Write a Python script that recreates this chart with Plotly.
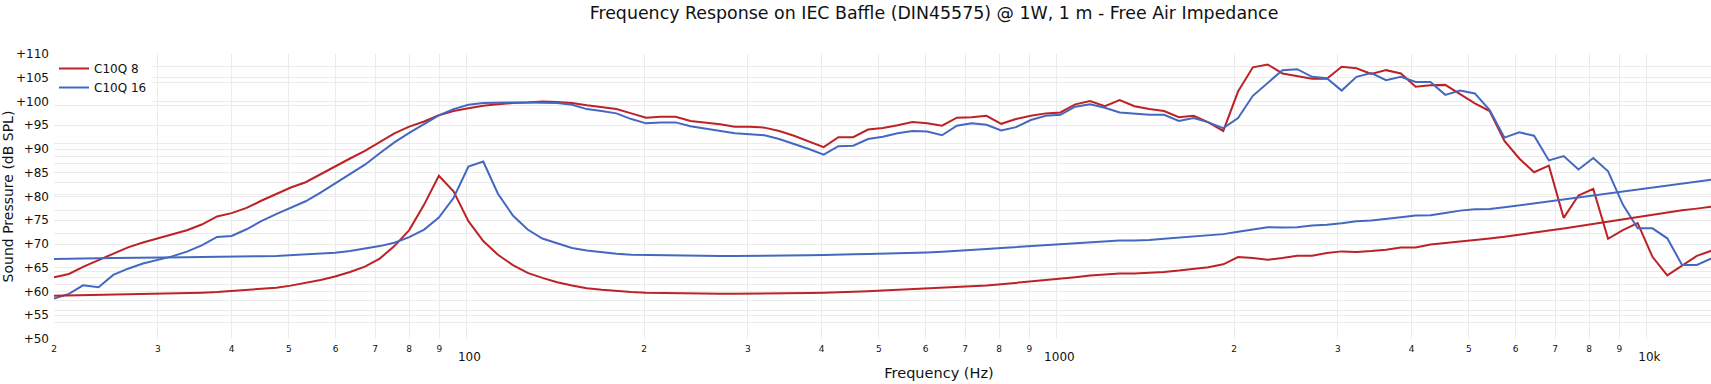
import plotly.graph_objects as go
import math

# 1/12-octave frequency points (Hz)
freq = [20.0, 21.2, 22.4, 23.8, 25.2, 26.7, 28.3, 30.0, 31.7, 33.6, 35.6, 37.8,
        40.0, 42.4, 44.9, 47.6, 50.4, 53.4, 56.6, 59.9, 63.5, 67.3, 71.3, 75.5,
        80.0, 84.8, 89.8, 95.1, 100.8, 106.8, 113.1, 119.9, 127.0, 134.5, 142.5, 151.0,
        160.0, 169.5, 179.6, 190.3, 201.6, 213.6, 226.3, 239.7, 254.0, 269.1, 285.1, 302.1,
        320.0, 339.0, 359.2, 380.6, 403.2, 427.1, 452.5, 479.5, 508.0, 538.2, 570.2, 604.1,
        640.0, 678.1, 718.4, 761.1, 806.3, 854.3, 905.1, 958.9, 1015.9, 1076.3, 1140.3, 1208.1,
        1280.0, 1356.1, 1436.8, 1522.2, 1612.7, 1708.6, 1810.2, 1917.9, 2031.9, 2152.7, 2280.7, 2416.3,
        2560.0, 2712.2, 2873.5, 3044.4, 3225.4, 3417.2, 3620.4, 3835.7, 4063.9, 4305.5, 4561.5, 4832.7,
        5120.0, 5424.5, 5746.9, 6088.7, 6450.8, 6834.4, 7240.8, 7671.3, 8127.5, 8610.8, 9122.8, 9665.3,
        10240.0, 10848.9, 11494.0, 12177.4, 12901.6]

# Sound pressure (dB SPL)
spl_c10q8 = [63.0, 63.7, 65.2, 66.6, 68.0, 69.3, 70.3, 71.2, 72.0, 72.9, 74.1, 75.8, 76.5, 77.6, 79.1, 80.6,
             81.9, 83.0, 84.7, 86.4, 88.0, 89.6, 91.4, 93.3, 94.7, 95.8, 97.1, 98.0, 98.6, 99.1, 99.4, 99.7, 99.8,
             100.0, 99.9, 99.7, 99.2, 98.8, 98.4, 97.5, 96.6, 96.8, 96.8, 95.9, 95.6, 95.2, 94.7, 94.7, 94.5,
             93.8, 92.8, 91.6, 90.4, 92.5, 92.5, 94.1, 94.4, 95.0, 95.7, 95.4, 94.9, 96.6, 96.7, 97.0, 95.3, 96.3,
             97.0, 97.5, 97.7, 99.4, 100.1, 99.0, 100.3, 99.0, 98.4, 98.0, 96.7, 97.0, 95.6, 93.8, 102.1, 107.2,
             107.8, 105.9, 105.4, 104.8, 104.8, 107.3, 107.0, 105.8, 106.6, 105.9, 103.1, 103.4, 103.5, 101.5,
             99.6, 98.0, 91.7, 88.0,
             85.1, 86.5, 75.5, 80.2, 81.6, 71.1, 72.9, 74.4, 67.3, 63.4, 65.5, 67.5, 68.6]
spl_c10q16 = [58.5, 59.5, 61.3, 60.9, 63.5, 64.8, 65.9, 66.6, 67.4, 68.4, 69.7, 71.5, 71.7, 73.1, 74.8, 76.3,
              77.7, 79.0, 80.8, 82.7, 84.6, 86.7, 89.1, 91.4, 93.4, 95.3, 97.1, 98.4, 99.3, 99.7, 99.8, 99.8, 99.8,
              99.8, 99.7, 99.3, 98.4, 98.0, 97.5, 96.3, 95.4, 95.6, 95.6, 94.8, 94.3, 93.9, 93.3, 93.1, 92.9,
              92.1, 91.1, 90.0, 88.8, 90.6, 90.7, 92.1, 92.6, 93.3, 93.8, 93.7, 92.9, 94.9, 95.4, 95.1, 93.9, 94.6,
              96.1, 97.0, 97.2, 98.9, 99.4, 98.7, 97.7, 97.5, 97.2, 97.2, 95.9, 96.5, 95.6, 94.4, 96.5, 101.2,
              103.8, 106.6, 106.8, 105.2, 104.9, 102.3, 105.2, 106.0, 104.5, 105.2, 104.1, 104.1, 101.4, 102.3,
              101.7, 98.2, 92.4, 93.5,
              92.8, 87.6, 88.5, 85.7, 88.1, 85.3, 78.3, 73.3, 73.3, 71.2, 65.6, 65.6, 67.0]

# Free-air impedance (Ohm)
imp_c10q8 = [6.52, 6.55, 6.57, 6.60, 6.64, 6.68, 6.68, 6.72, 6.76, 6.80, 6.88, 6.96, 7.09, 7.27, 7.40, 7.54,
             7.82, 8.21, 8.66, 9.20, 9.99, 11.0, 12.7, 15.9, 21.2, 33.5, 56.2, 42.5, 24.9, 17.4, 13.6, 11.3, 9.82,
             8.98, 8.32, 7.83, 7.47, 7.25, 7.08, 6.96, 6.88, 6.84, 6.80, 6.76, 6.76, 6.76, 6.76, 6.76, 6.76,
             6.80, 6.80, 6.84, 6.88, 6.92, 7.00, 7.08, 7.16, 7.25, 7.29, 7.38, 7.47, 7.56, 7.70, 7.83, 8.02, 8.21,
             8.42, 8.67, 8.88, 9.09, 9.37, 9.54, 9.71, 9.71, 9.82, 10.0, 10.24, 10.49, 10.87, 11.47, 13.07, 12.84,
             12.46, 12.84, 13.38, 13.38, 14.04, 14.46, 14.29, 14.55, 14.90, 15.53, 15.53, 16.39, 16.79, 17.29,
             17.81, 18.24, 18.79, 19.59,
             20.18, 21.04, 21.8, 22.73, 23.56, 24.57, 25.46, 26.54, 27.67, 28.84, 30.25, 31.16, 32.28]
imp_c10q16 = [12.61, 12.61, 12.69, 12.78, 12.85, 12.85, 12.93, 12.93, 13.00, 13.00, 13.08, 13.08, 13.16, 13.16,
              13.24, 13.32, 13.48, 13.64, 13.89, 14.14, 14.56, 15.16, 15.9, 16.9, 18.7, 21.4, 26.5, 37.7, 66.3,
              72.5, 40.7, 27.5, 21.4,
              18.2, 16.6, 15.35, 14.7, 14.2, 13.87, 13.6, 13.55, 13.4, 13.3, 13.3, 13.3, 13.3, 13.3, 13.3, 13.3,
              13.4, 13.4, 13.48, 13.55, 13.55, 13.72, 13.8, 13.87, 13.95, 14.12, 14.2, 14.37, 14.54, 14.8, 15.07,
              15.35, 15.6,
              15.91, 16.2, 16.5, 16.79, 17.1, 17.4, 17.61, 17.61, 17.72, 18.14, 18.46, 18.79, 19.13, 19.71, 20.55,
              21.54, 22.33, 22.2, 22.33, 23.0, 23.28, 23.98, 24.86, 25.16, 25.76, 26.7, 27.5, 27.67, 28.84, 30.06,
              30.79, 30.97, 31.91, 33.07,
              34.06, 35.3, 36.6, 37.93, 39.3, 40.74, 42.2, 44.0, 45.6, 47.26, 48.97, 50.45, 52.3]

series_names = ["C10Q 8", "C10Q 16"]
colors = ["#bc2226", "#4468c2"]
title_text = "Frequency Response on IEC Baffle (DIN45575) @ 1W, 1 m - Free Air Impedance"

FONT = "DejaVu Sans, Verdana, sans-serif"
GRID = "#ebebeb"

fig = go.Figure()
for name, spl, col in zip(series_names, [spl_c10q8, spl_c10q16], colors):
    fig.add_trace(go.Scatter(x=freq, y=spl, mode="lines", name=name,
                             line=dict(color=col, width=2)))
for name, imp, col in zip(series_names, [imp_c10q8, imp_c10q16], colors):
    fig.add_trace(go.Scatter(x=freq, y=imp, mode="lines", name=name + " impedance",
                             showlegend=False, yaxis="y2", line=dict(color=col, width=2)))

fig.update_layout(
    width=1868, height=384,
    margin=dict(l=54, r=44, t=54, b=45, autoexpand=False),
    paper_bgcolor="white", plot_bgcolor="white",
    font=dict(family=FONT, size=12, color="#111"),
    title=dict(text=title_text, x=0.5, xanchor="center", y=0.966, yanchor="middle",
               font=dict(size=17.4, family=FONT, color="#111")),
    showlegend=True,
    legend=dict(x=0, y=1, xanchor="left", yanchor="top", bgcolor="white",
                tracegroupgap=0, font=dict(size=12, family=FONT, color="#111")),
    xaxis=dict(type="log", range=[math.log10(20), math.log10(20000)], dtick="D1",
               showgrid=True, gridcolor=GRID, zeroline=False, showline=False, ticks="",
               tickfont=dict(size=12), automargin=False, ticklabelstandoff=3,
               title=dict(text="Frequency (Hz)", font=dict(size=14.5), standoff=4)),
    yaxis=dict(range=[50, 110], dtick=5, tickprefix="+", showgrid=True, gridcolor=GRID,
               zeroline=False, showline=False, ticks="", tickfont=dict(size=12), automargin=False,
               ticklabelstandoff=4,
               title=dict(text="Sound Pressure (dB SPL)", font=dict(size=14), standoff=0)),
    yaxis2=dict(type="log", overlaying="y", side="right",
                range=[math.log10(3), math.log10(500)], dtick="D1",
                showgrid=True, gridcolor=GRID, zeroline=False, showline=False, ticks="",
                showticklabels=False, automargin=False),
)

fig.write_html("out.html", config={"displayModeBar": False},
               post_script="document.body.style.margin='0';")
